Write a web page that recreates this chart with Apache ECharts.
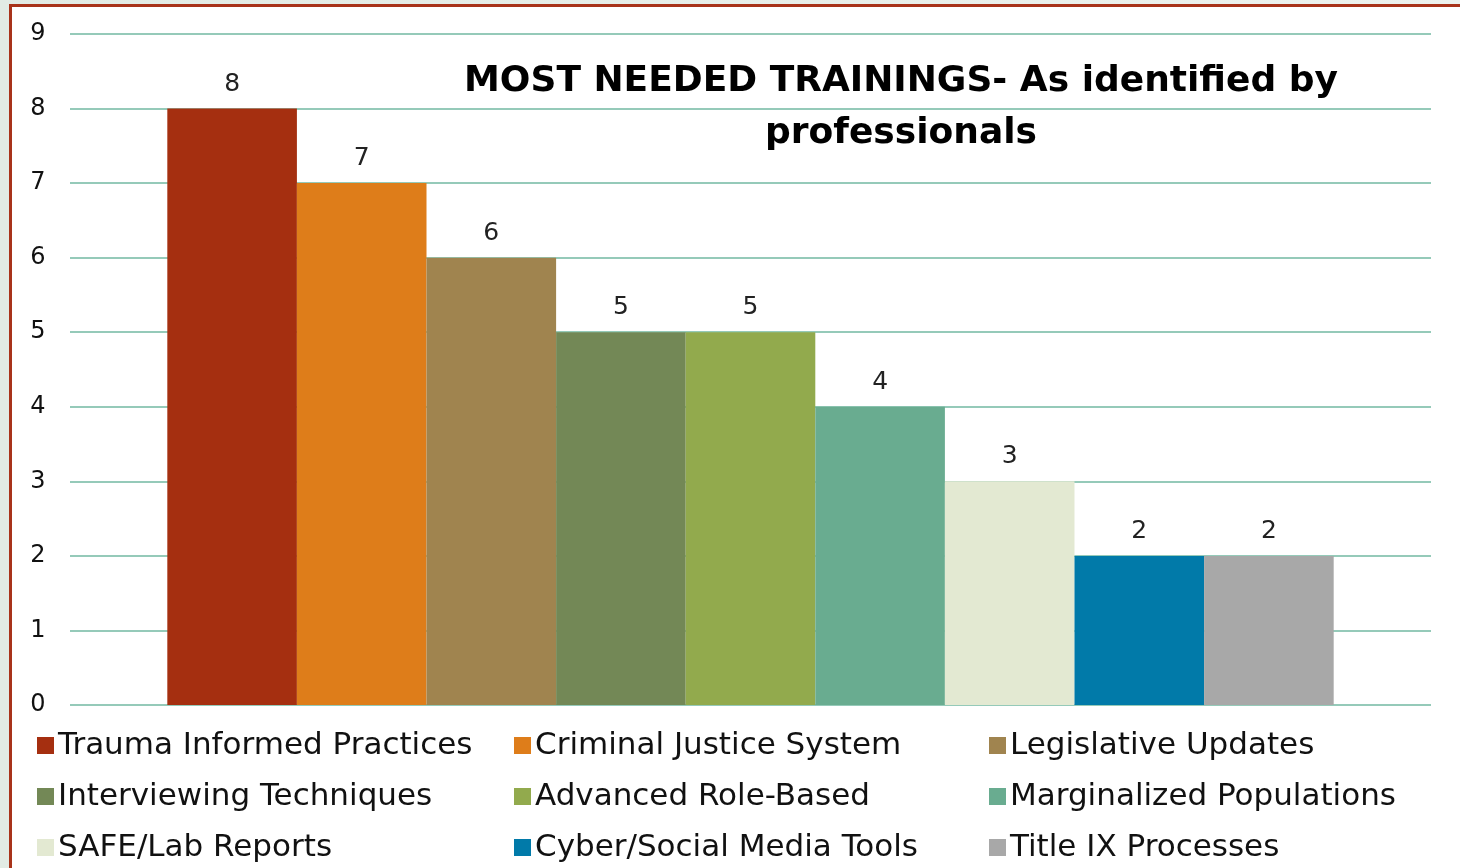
<!DOCTYPE html>
<html>
<head>
<meta charset="utf-8">
<script src="https://cdn.jsdelivr.net/npm/echarts@6/dist/echarts.min.js"></script>
<style>
    html, body { margin: 0; padding: 0; }
    body { width: 1460px; height: 868px; background: linear-gradient(90deg, #e2ebe4, #edf2ee); position: relative; overflow: hidden; }
    #frame { position: absolute; left: 9px; top: 4px; right: 0; bottom: 0; background: #fff; border-left: 3px solid #a8331a; border-top: 3px solid #a8331a; }
    #chart { position: absolute; left: 0; top: 0; width: 1460px; height: 868px; }
</style>
</head>
<body>
<div id="frame"></div>
<div id="chart"></div>
<script>
const trainings = [
    'Trauma Informed Practices', 'Criminal Justice System', 'Legislative Updates',
    'Interviewing Techniques', 'Advanced Role-Based', 'Marginalized Populations',
    'SAFE/Lab Reports', 'Cyber/Social Media Tools', 'Title IX Processes'
];
const counts = [8, 7, 6, 5, 5, 4, 3, 2, 2];
const colors = ['#a52f10', '#de7d1a', '#a0844f', '#738856', '#92aa4d', '#69ac90', '#e3e9d2', '#017aa9', '#a8a8a8'];
const titleText = 'MOST NEEDED TRAININGS- As identified by\nprofessionals';

const font = '"Century Gothic", "DejaVu Sans", sans-serif';

let chart = echarts.init(document.getElementById('chart'));

// three columns of three, each column its own legend
function legendColumn(items, left) {
    return {
        orient: 'vertical',
        left: left,
        top: 730,
        height: 140,
        padding: 0,
        icon: 'rect',
        itemWidth: 17,
        itemHeight: 17,
        itemGap: 20,
        selectedMode: false,
        data: items,
        textStyle: { fontFamily: font, fontSize: 31, color: '#111', lineHeight: 30, padding: [0, 0, 0, -1] }
    };
}

let option = {
    animation: false,
    title: {
        text: titleText,
        left: 896,
        top: 51,
        textAlign: 'center',
        textStyle: { fontFamily: font, fontSize: 36, fontWeight: 'bold', color: '#000', lineHeight: 52 }
    },
    legend: [
        legendColumn([trainings[0], trainings[3], trainings[6]], 37),
        legendColumn([trainings[1], trainings[4], trainings[7]], 514),
        legendColumn([trainings[2], trainings[5], trainings[8]], 989)
    ],
    grid: { left: 70, right: 29, top: 34, bottom: 163 },
    xAxis: {
        type: 'category',
        data: [''],
        axisLine: { show: false },
        axisTick: { show: false },
        axisLabel: { show: false }
    },
    yAxis: {
        type: 'value',
        min: 0,
        max: 9,
        interval: 1,
        axisLine: { show: false },
        axisTick: { show: false },
        axisLabel: { fontFamily: font, fontSize: 24, color: '#111', margin: 32, align: 'center', padding: [5, 0, 0, 0] },
        splitLine: { lineStyle: { color: '#72b8a2', width: 1.5 } }
    },
    series: trainings.map((name, i) => ({
        name: name,
        type: 'bar',
        data: [counts[i]],
        barGap: '0%',
        barCategoryGap: '14.3%',
        itemStyle: { color: colors[i] },
        label: {
            show: true,
            position: 'top',
            distance: 12,
            fontFamily: font,
            fontSize: 25,
            color: '#222'
        }
    }))
};

option && chart.setOption(option);
</script>
</body>
</html>
